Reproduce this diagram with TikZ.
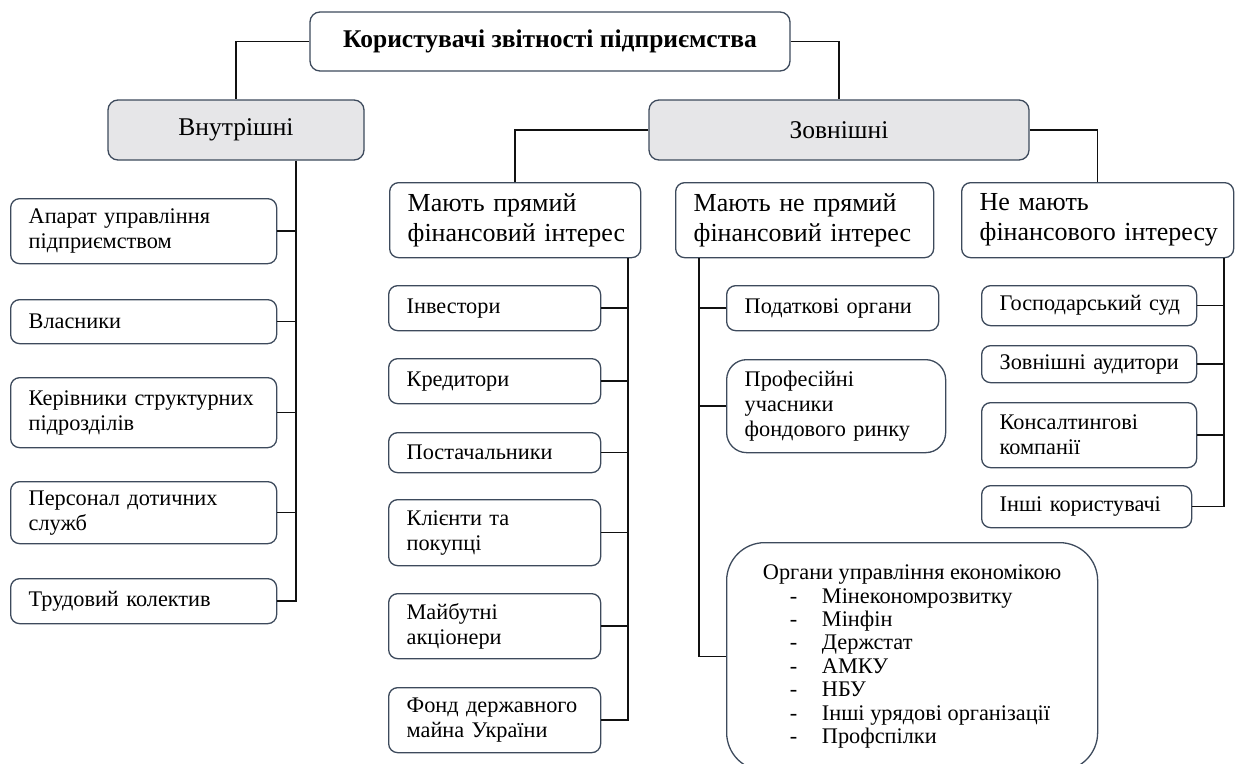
\documentclass[tikz,border=0pt]{standalone}
\usepackage{fontspec}
\setmainfont{Liberation Serif}
\usetikzlibrary{positioning,calc}
\definecolor{edge}{HTML}{3D4A5C}
\definecolor{shade}{HTML}{E6E6E8}
\definecolor{ink}{HTML}{111111}
\newcommand{\itm}[1]{\hspace*{27pt}\makebox[32pt][l]{-}#1}

\begin{document}
\begin{tikzpicture}[x=1pt,y=-1pt,
  bx/.style={draw=edge,line width=1.3pt,fill=white,rounded corners=9pt,anchor=north west,align=left,inner xsep=18pt,inner ysep=0pt,font=\fontsize{22.3}{25}\selectfont},
  grp/.style={bx,minimum height=75pt,font=\fontsize{26}{30}\selectfont},
  head/.style={draw=edge,line width=1.3pt,rounded corners=10pt,fill=shade,inner sep=0pt,font=\fontsize{25.5}{30}\selectfont},
  wire/.style={draw=ink,line width=1.6pt}]
  \useasboundingbox (0,0) rectangle (1236,763);

  % top levels
  \node[head,fill=white,minimum width=480pt,minimum height=59pt,font=\bfseries\fontsize{25.5}{30}\selectfont] (users) at (550,41.5) {Користувачі звітності підприємства};
  \node[head,minimum width=256pt,minimum height=60pt] (inner) at (236,130) {Внутрішні};
  \node[head,minimum width=380pt,minimum height=60pt] (outer) at (839,130) {Зовнішні};
  \draw[wire] (users.west) -| (inner.north);
  \draw[wire] (users.east) -| (outer.north);

  \node[grp,text width=215pt] (direct) at (389,182) {Мають прямий\\фінансовий~інтерес};
  \node[grp,text width=222pt] (indirect) at (675,182) {Мають не прямий\\фінансовий~інтерес};
  \node[grp,text width=236pt] (noint) at (961,182) {Не мають\\фінансового~інтересу};
  \draw[wire] (outer.west) -| (direct.north);
  \draw[wire] (outer.east) -| (noint.north);

  \coordinate (ispine) at (296,160);
  \coordinate (dspine) at (628,257);
  \coordinate (nspine) at (699,257);
  \coordinate (xspine) at (1224,257);

  % internal users
  \foreach \nm/\y/\h/\txt in {apar/198/65/{Апарат управління\\підприємством}, vlas/299/44/Власники,
      kerv/377/70/{Керівники~структурних\\підрозділів}, pers/481/62/{Персонал дотичних\\служб},
      trud/578/45/{Трудовий колектив}} {
    \node[bx,text width=230pt,minimum height=\h] (\nm) at (10,\y) {\txt};
    \draw[wire] (\nm.east) -- (\nm.east -| ispine);
  }
  \draw[wire] (inner.south -| ispine) |- (trud.east);

  % direct interest
  \foreach \nm/\y/\h/\txt in {inv/285/45/Інвестори, kred/358/45/Кредитори, post/432/40/Постачальники,
      klie/499/66/{Клієнти та\\покупці}, majb/593/65/{Майбутні\\акціонери},
      fond/687/65/{Фонд~державного\\майна України}} {
    \node[bx,text width=176pt,minimum height=\h] (\nm) at (388,\y) {\txt};
    \draw[wire] (\nm.east) -- (\nm.east -| dspine);
  }
  \draw[wire] (direct.south -| dspine) |- (fond.east);

  % indirect interest
  \node[bx,text width=176pt,minimum height=45pt] (podat) at (726,285) {Податкові~органи};
  \node[bx,text width=183pt,minimum height=93pt,rounded corners=20pt] (prof) at (726,359) {Професійні\\учасники\\фондового~ринку};
  \node[bx,minimum width=371pt,minimum height=228pt,rounded corners=38pt,font=\fontsize{22.3}{23.4}\selectfont] (organy) at (726,542)
    {Органи управління економікою\\\itm{Мінекономрозвитку}\\\itm{Мінфін}\\\itm{Держстат}\\\itm{АМКУ}\\\itm{НБУ}\\\itm{Інші урядові організації}\\\itm{Профспілки}};
  \foreach \nm in {podat,prof}
    \draw[wire] (\nm.west) -- (\nm.west -| nspine);
  \draw[wire] (indirect.south -| nspine) |- (organy.west);

  % no interest
  \foreach \nm/\y/\h/\w/\txt in {gosp/285/40/179/{Господарський~суд}, audyt/345/37/179/{Зовнішні~аудитори},
      kons/402/65/179/{Консалтингові\\компанії}, inshi/485/42/174/{Інші~користувачі}} {
    \node[bx,text width=\w pt,minimum height=\h] (\nm) at (981,\y) {\txt};
    \draw[wire] (\nm.east) -- (\nm.east -| xspine);
  }
  \draw[wire] (noint.south -| xspine) |- (inshi.east);
\end{tikzpicture}
\end{document}
